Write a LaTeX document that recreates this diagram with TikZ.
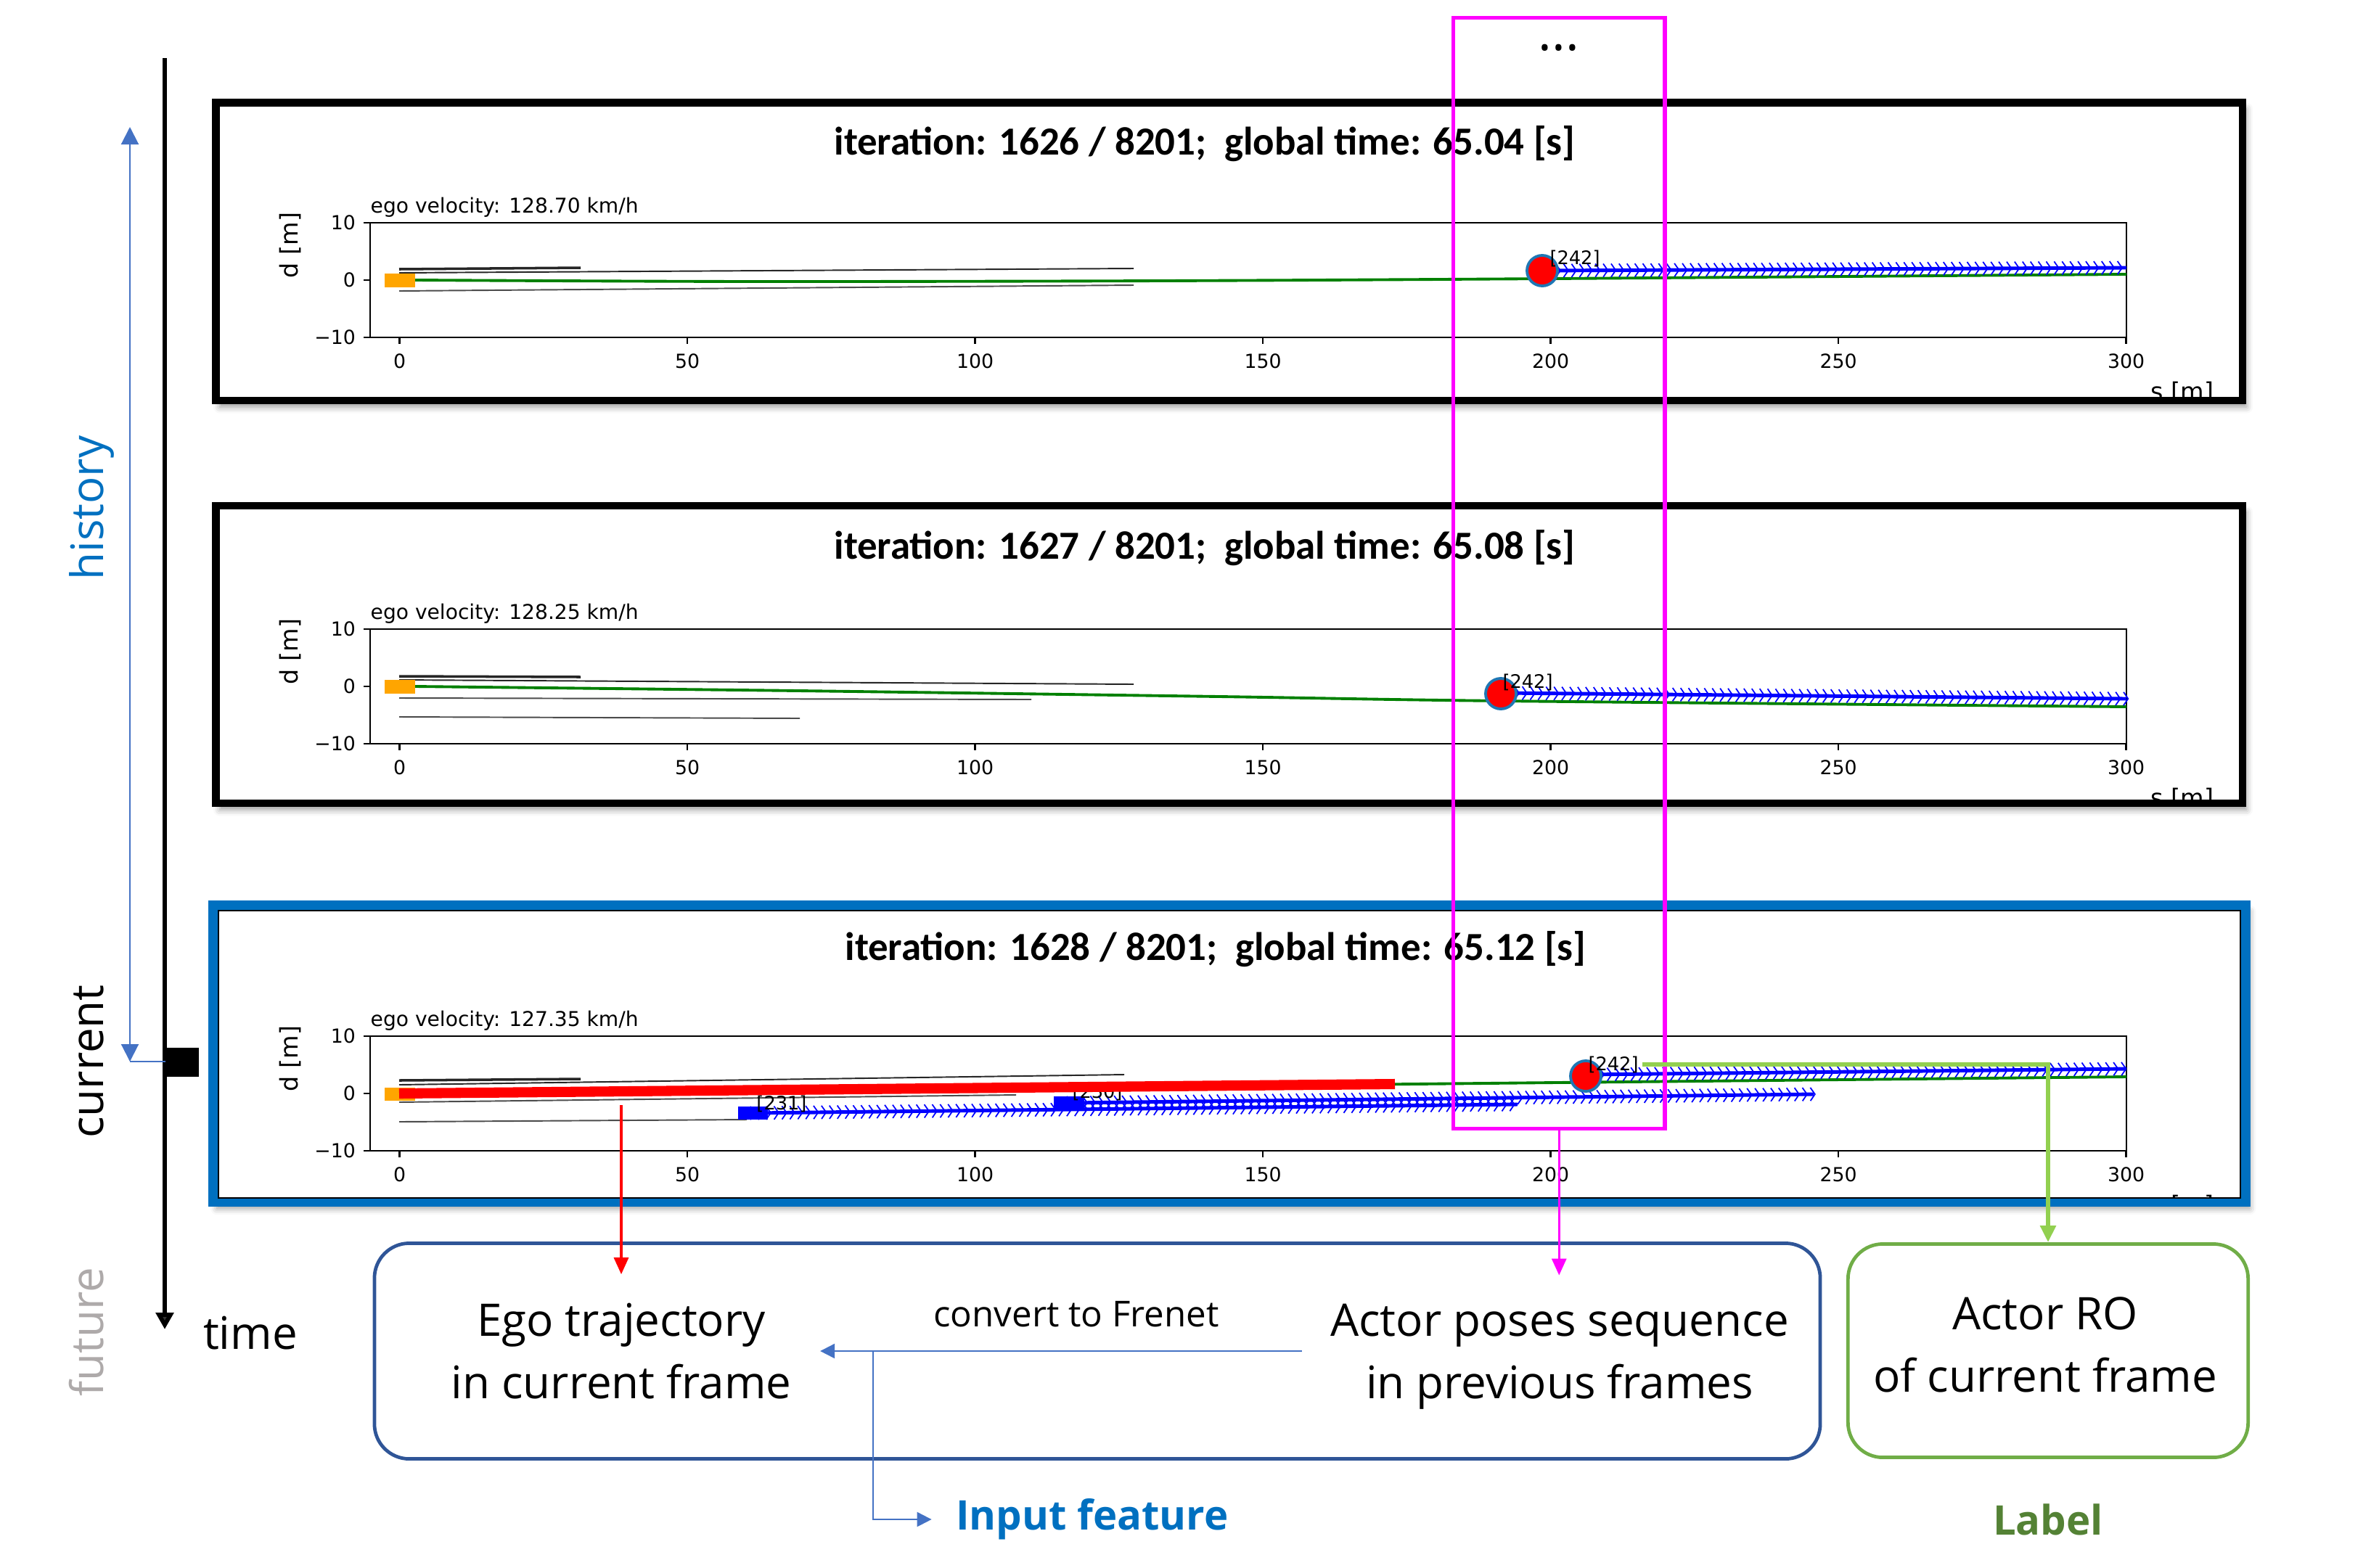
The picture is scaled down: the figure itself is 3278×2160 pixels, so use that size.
\documentclass[tikz,border=0pt]{standalone}
\usepackage{fontspec}
\setmainfont{Open Sans}
\newfontfamily\calfont{Carlito}
\newfontfamily\mplfont{DejaVu Sans}
\usetikzlibrary{arrows.meta,positioning,calc,decorations.markings,shadows.blur}
\definecolor{featblue}{HTML}{2F5597}
\definecolor{robord}{HTML}{70AD47}
\definecolor{lblgreen}{HTML}{548235}
\definecolor{inblue}{HTML}{0070C0}
\definecolor{arrblue}{HTML}{4472C4}
\definecolor{pickgreen}{HTML}{92D050}
\definecolor{mplblue}{HTML}{1F77B4}
\definecolor{egoor}{HTML}{FFA500}
\definecolor{cgreen}{HTML}{008000}
\definecolor{futgray}{HTML}{AEAAAA}
\definecolor{selmag}{HTML}{FF00FF}

\begin{document}
\begin{tikzpicture}[x=0.01cm,y=-0.01cm,
 frame/.style={line width=2.85pt,fill=white,blur shadow={shadow xshift=1.5pt,shadow yshift=-2.5pt,shadow blur radius=2.5pt,shadow opacity=40}},
 ttl/.style={font=\calfont\bfseries\fontsize{15.6}{18}\selectfont,anchor=base,inner sep=0pt},
 vel/.style={font=\mplfont\fontsize{8}{10}\selectfont,anchor=base west,inner sep=0pt},
 tck/.style={font=\mplfont\fontsize{7.6}{9}\selectfont,inner sep=1pt},
 ylab/.style={font=\mplfont\fontsize{9.5}{11}\selectfont,rotate=90,inner sep=0pt},
 idl/.style={font=\mplfont\fontsize{7.3}{9}\selectfont,inner sep=0pt},
 spine/.style={line width=0.7pt},
 lane/.style={black!85,line width=0.55pt},
 cline/.style={cgreen,line width=1.1pt},
 egotraj/.style={red,line width=4pt},
 obj/.style={fill=red,draw=mplblue,line width=1.1pt},
 trj/.style={blue,line width=1.4pt,postaction={decorate,decoration={markings,mark=between positions 0 and 1 step 3.1pt with {\draw[blue,line width=0.5pt] (-0.9pt,-2.6pt) -- (0.9pt,0pt) -- (-0.9pt,2.6pt);}}}},
 rotlbl/.style={font=\fontsize{17.6}{20}\selectfont,rotate=90,anchor=base,inner sep=0pt},
 boxtxt/.style={font=\fontsize{17.6}{24.5}\selectfont,align=center,inner sep=0.39cm},
 outtxt/.style={font=\bfseries\fontsize{16}{18}\selectfont,inner sep=0.33cm},
 featbox/.style={draw=featblue,line width=1.35pt,rounded corners=0.48cm,minimum width=19.91cm,minimum height=2.97cm,inner sep=0pt},
 robox/.style={draw=robord,line width=1.35pt,rounded corners=0.48cm,minimum width=5.51cm,minimum height=2.94cm,inner sep=0pt},
 pickarr/.style={-{Triangle[length=0.23cm,width=0.2cm]},line width=0.9pt},
 histarr/.style={{Triangle[length=0.24cm,width=0.24cm]}-{Triangle[length=0.24cm,width=0.24cm]},arrblue,line width=0.6pt},
 convarr/.style={-{Triangle[length=0.2cm,width=0.2cm]},arrblue,line width=0.6pt}]
\useasboundingbox (0,0) rectangle (3278,2160);
\draw[frame] (297.5,141.5) rectangle (3090,552);
\draw[frame] (297.5,697) rectangle (3090,1107);
\draw[frame,draw=inblue,line width=3.5pt] (293.5,1247.5) rectangle (3094.5,1656.5);
\draw[line width=0.8pt] (301,1255) rectangle (3087,1651);
\node[ttl] (ttl1) at (1660,213) {iteration: 1626 / 8201;\ \ global time: 65.04 [s]};
\node[ttl] (ttl2) at (1660,770) {iteration: 1627 / 8201;\ \ global time: 65.08 [s]};
\node[ttl] (ttl3) at (1675,1323) {iteration: 1628 / 8201;\ \ global time: 65.12 [s]};
\node[vel] (vel1) at (510,293) {ego velocity: 128.70 km/h};
\node[vel] (vel2) at (510,853) {ego velocity: 128.25 km/h};
\node[vel] (vel3) at (510,1414) {ego velocity: 127.35 km/h};
\foreach \oy in {0,560,1121}{
 \draw[spine] (510,307+\oy) rectangle (2930,465+\oy);
 \foreach \s in {0,50,...,300}
  {\draw[spine] (550.5+7.93*\s,465+\oy) -- ++(0,9);
   \node[tck] (xt-\oy-\s) at (550.5+7.93*\s,498+\oy) {\s};}
 \foreach \dv/\yy in {10/307,0/386,−10/465}
  {\draw[spine] (510,\yy+\oy) -- ++(-9,0);
   \node[tck,anchor=east] (yt-\oy-\yy) at (494,\yy+\oy) {\dv};}
 \node[ylab] (yl-\oy) at (400,338+\oy) {d [m]};
}
\foreach \oy/\yb in {0/547,560/1103,1121/1651}
 {\begin{scope}
  \clip (300,0) rectangle (3088,\yb);
  \node[ylab,rotate=-90,anchor=north] (sl-\oy) at (3007,525+\oy) {s [m]};
 \end{scope}}
\draw[lane,line width=1pt] (550,371) -- (800,369);
\draw[lane] (550,376) -- (1562,370);
\draw[lane,black!70] (550,401) -- (1562,393);
\draw[cline] plot[smooth] coordinates {(572,386)(1039,388)(1600,387)(2137,384)(2930,378)};
\fill[egoor] (530,377) rectangle (572,396);
\draw[trj] (2125,373) -- (2930,369);
\draw[obj] (2125,373) circle (21);
\node[idl] (id1) at (2170,356) {[242]};
\draw[lane,line width=1pt] (550,932) -- (800,933);
\draw[lane] (550,937) -- (1562,943);
\draw[lane,black!70] (550,962) -- (1421,964);
\draw[lane,black!70] (550,988) -- (1102,990);
\draw[cline] plot[smooth] coordinates {(572,946)(1100,952)(1680,960)(2068,966)(2930,974)};
\fill[egoor] (530,937) rectangle (572,956);
\draw[trj] (2068,955) -- (2930,963);
\draw[obj] (2068,956) circle (21);
\node[idl] (id2) at (2105,940) {[242]};
\draw[lane,line width=1pt] (550,1489) -- (800,1487);
\draw[lane] (550,1495) -- (1549,1481);
\draw[lane,black!70] (550,1519) -- (1400,1509);
\draw[lane,black!70] (550,1546) -- (1029,1543);
\draw[cline] (572,1508) -- (2930,1484);
\fill[egoor] (530,1499) rectangle (572,1517);
\draw[trj] (1037,1534) -- (2091,1522);
\draw[trj] (1473,1520) -- (2499,1508);
\fill[blue] (1017,1525) rectangle (1058,1543);
\fill[blue] (1452,1511) rectangle (1494,1529);
\node[idl] (id231) at (1077,1521) {[231]};
\node[idl] (id230) at (1512,1505) {[230]};
\draw[egotraj] (550,1507) -- (1922,1494);
\draw[trj] (2185,1481) -- (2930,1473);
\draw[obj] (2185,1483) circle (21);
\node[idl] (id3) at (2223,1467) {[242]};
\node[draw=selmag,line width=1.56pt,minimum width=2.915cm,minimum height=15.3cm,inner sep=0pt] (sel) at (2148.25,790) {};
\node[font=\fontsize{20}{22}\selectfont,inner sep=0pt] (dots) at (2148,66) {...};
\coordinate (tltop) at (227,80);
\coordinate (tlend) at (227,1832);
\draw[-{Triangle[length=0.23cm,width=0.24cm]},line width=1.7pt] (tltop) -- (tlend);
\node[fill=black,minimum width=0.45cm,minimum height=0.4cm,inner sep=0pt] (curmark) at (251.5,1464) {};
\coordinate (histtop) at (179,175);
\coordinate (histbot) at (179,1463);
\draw[histarr] (histtop) -- (histbot);
\draw[arrblue,line width=0.6pt] (histbot) -- (curmark.west |- histbot);
\node[rotlbl,text=inblue] (histlbl) at (143,700) {history};
\node[rotlbl] (curlbl) at (143,1463) {current};
\node[rotlbl,text=futgray] (futlbl) at (143,1836) {future};
\node[font=\fontsize{17.6}{20}\selectfont,inner sep=0pt] (timelbl) at (345,1837) {time};
\node[featbox] (featbox) at (1512,1862) {};
\node[robox] (robox) at (2822,1861.5) {};
\node[boxtxt] (egotxt) at (856,1862) {Ego trajectory\\in current frame};
\node[boxtxt] (actortxt) at (2149,1870) {Actor poses sequence\\in previous frames};
\node[boxtxt] (rotxt) at (2818,1853) {Actor RO\\of current frame};
\node[font=\fontsize{14}{16}\selectfont,inner sep=0pt] (convtxt) at (1483,1811) {convert to Frenet};
\node[outtxt,text=inblue] (inputlbl) at (1505,2094) {Input feature};
\node[outtxt,text=lblgreen] (labellbl) at (2822,2094) {Label};
\coordinate (egosrc) at (856,1523);
\draw[pickarr,red] (egosrc) -- (egotxt.north);
\draw[pickarr,selmag] (sel.south) -- (sel.south |- actortxt.north);
\coordinate (lblsrc) at (2263,1467);
\draw[-{Triangle[length=0.23cm,width=0.21cm]},pickgreen,line width=1.6pt] (lblsrc) -| (robox.north);
\draw[convarr] (actortxt.west |- egotxt.east) -- (egotxt.east);
\coordinate (branch) at (1203,1862);
\draw[convarr] (branch) |- (inputlbl.west);
\end{tikzpicture}
\end{document}
